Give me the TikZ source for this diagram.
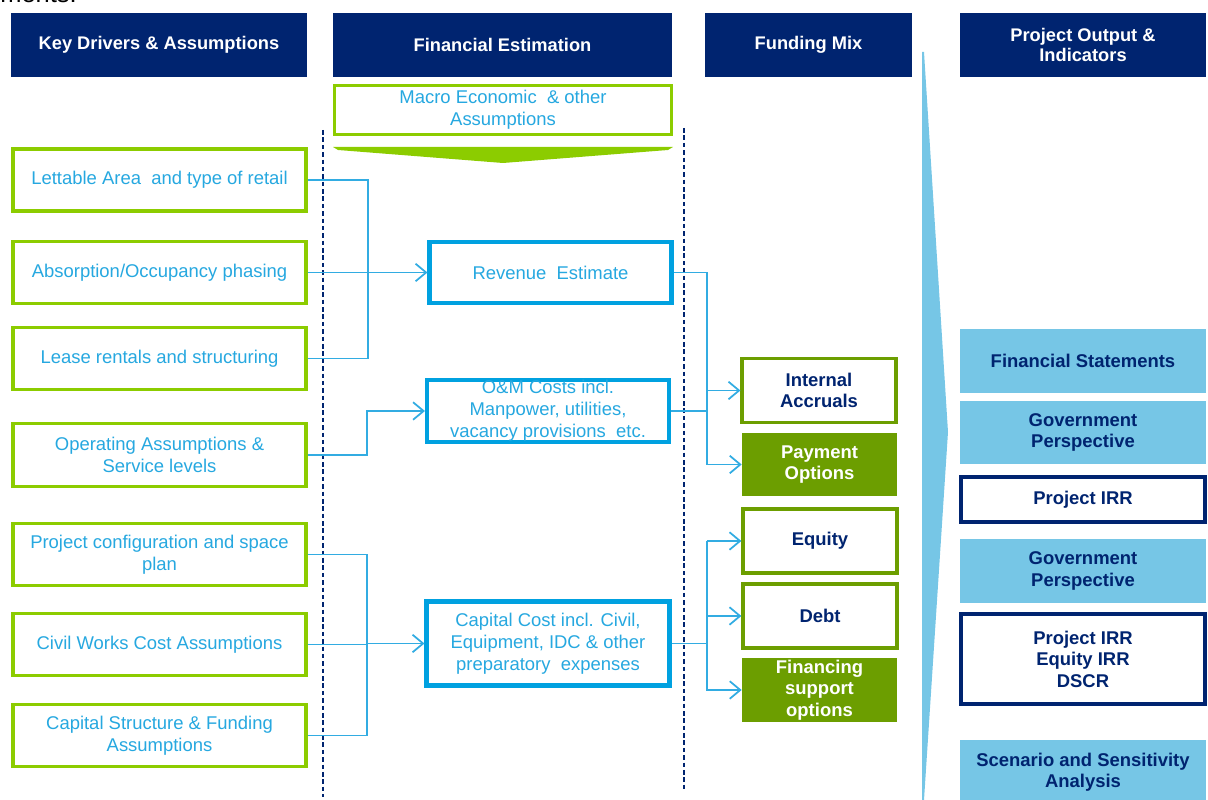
\documentclass[tikz,border=0pt]{standalone}
\usepackage{fontspec}
\setmainfont{Liberation Sans}
\usetikzlibrary{arrows.meta}
\definecolor{navy}{RGB}{0,36,112}
\definecolor{lime}{RGB}{140,204,0}
\definecolor{olive}{RGB}{108,158,0}
\definecolor{txtblue}{RGB}{38,168,224}
\definecolor{boxblue}{RGB}{0,161,224}
\definecolor{connblue}{RGB}{50,172,226}
\definecolor{lblue}{RGB}{118,198,230}
\begin{document}
\begin{tikzpicture}[x=0.02cm,y=-0.02cm,
  sz/.style 2 args={minimum width=#1*0.02cm, minimum height=#2*0.02cm},
  hdr/.style={fill=navy, text=white, font=\bfseries\fontsize{10.4}{11.8}\selectfont, align=center, inner sep=0pt},
  drv/.style={draw=lime, line width=2pt, fill=white, text=txtblue, font=\fontsize{10.5}{12.4}\selectfont, align=center, inner sep=0pt},
  est/.style={draw=boxblue, line width=2.3pt, fill=white, text=txtblue, font=\fontsize{10.5}{12.4}\selectfont, align=center, inner sep=0pt},
  fundo/.style={draw=olive, line width=1.8pt, fill=white, text=navy, font=\bfseries\fontsize{10.5}{12.2}\selectfont, align=center, inner sep=0pt},
  fundf/.style={fill=olive, text=white, font=\bfseries\fontsize{10.5}{12.2}\selectfont, align=center, inner sep=0pt},
  outf/.style={fill=lblue, text=navy, font=\bfseries\fontsize{10.5}{12.2}\selectfont, align=center, inner sep=0pt},
  outo/.style={draw=navy, line width=1.8pt, fill=white, text=navy, font=\bfseries\fontsize{10.5}{12.2}\selectfont, align=center, inner sep=0pt},
  conn/.style={draw=connblue, line width=0.8pt},
  arr/.style={conn, -{Straight Barb[length=6pt,width=10pt,line width=1pt]}},
  vdash/.style={draw=navy, line width=0.7pt, dash pattern=on 2.6pt off 1.6pt}
]
\useasboundingbox (0,0) rectangle (1208,800);
\clip (0,0) rectangle (1208,800);

% cut-off caption fragment at the top
\node[anchor=base west, inner sep=0pt, font=\fontsize{14.5}{16}\selectfont] (frag) at (0,3) {ments.};

% headers
\node[hdr, sz={296}{64}] (h1) at (159,45) {Key Drivers \& Assumptions};
\node[hdr, sz={339}{64}] (h2) at (502.5,45) {Financial Estimation};
\node[hdr, sz={207}{64}] (h3) at (808.5,45) {Funding Mix};
\node[hdr, sz={246}{64}] (h4) at (1083,45) {Project Output \&\\Indicators};

% dashed guides
\draw[vdash] (323,130) -- (323,797);
\draw[vdash] (684,128) -- (684,792);

% big light-blue wedge
\fill[lblue] (922,52) -- (924,52) -- (948,432) -- (924,800) -- (922,800) -- cycle;

% macro box and green chevron
\node[drv, sz={337}{49}] (macro) at (503,110) {Macro Economic \ \& other\\Assumptions};
\fill[lime] (333,147) -- (673,147) -- (668,150) -- (503,163) -- (338,150) -- cycle;

% key drivers
\node[drv, sz={293}{62}] (d1) at (159.5,180) {Lettable Area \ and type of retail};
\node[drv, sz={293}{62}] (d2) at (159.5,272.5) {Absorption/Occupancy phasing};
\node[drv, sz={293}{62}] (d3) at (159.5,358.5) {Lease rentals and structuring};
\node[drv, sz={293}{63}] (d4) at (159.5,455) {Operating Assumptions \&\\Service levels};
\node[drv, sz={293}{62}] (d5) at (159.5,554.5) {Project configuration and space\\plan};
\node[drv, sz={293}{62}] (d6) at (159.5,644.5) {Civil Works Cost Assumptions};
\node[drv, sz={293}{62}] (d7) at (159.5,735.5) {Capital Structure \& Funding\\Assumptions};

% estimation boxes
\node[est, sz={242}{61}] (rev) at (550.5,272.5) {Revenue \ Estimate};
\node[est, sz={242}{62}] (om) at (548,411) {O\&M Costs incl.\\Manpower, utilities,\\vacancy provisions \ etc.};
\node[est, sz={243}{84}] (cap) at (548,643.5) {Capital Cost incl. Civil,\\Equipment, IDC \& other\\preparatory \ expenses};

% funding mix
\node[fundo, sz={154}{64}] (ia) at (819,390.5) {Internal\\Accruals};
\node[fundf, sz={155}{63}] (po) at (819.5,464.5) {Payment\\Options};
\node[fundo, sz={154}{64}] (eq) at (820,541) {Equity};
\node[fundo, sz={154}{64}] (debt) at (820,616) {Debt};
\node[fundf, sz={155}{64}] (fin) at (819.5,690) {Financing\\support\\options};

% outputs
\node[outf, sz={246}{64}] (fs) at (1083,361) {Financial Statements};
\node[outf, sz={246}{63}] (gp1) at (1083,432.5) {Government\\Perspective};
\node[outo, sz={244}{45}] (pirr) at (1083,499.5) {Project IRR};
\node[outf, sz={246}{64}] (gp2) at (1083,571) {Government\\Perspective};
\node[outo, sz={244}{90}] (multi) at (1083,659) {Project IRR\\Equity IRR\\DSCR};
\node[outf, sz={246}{64}] (ssa) at (1083,772) {Scenario and Sensitivity\\Analysis};

% junction columns
\coordinate (j1) at (368,0);
\coordinate (j2) at (367,0);
\coordinate (j3) at (707,0);

% connectors: drivers to estimates
\draw[conn] (d1.east) -- (d1.east -| j1) -- (d3.east -| j1) -- (d3.east);
\draw[arr] (d2.east) -- (rev.west);
\draw[arr] (d4.east) -- (d4.east -| j2) -- (om.west -| j2) -- (om.west);
\draw[conn] (d5.east) -- (d5.east -| j2) -- (d7.east -| j2) -- (d7.east);
\draw[conn] (d6.east) -- (d6.east -| j2);
\draw[arr] (cap.west -| j2) -- (cap.west);

% connectors: estimates to funding
\draw[arr] (rev.east) -- (rev.east -| j3) -- (po.west -| j3) -- (po.west);
\draw[conn] (om.east) -- (om.east -| j3);
\draw[arr] (ia.west -| j3) -- (ia.west);
\draw[conn] (cap.east) -- (cap.east -| j3);
\draw[arr] (eq.west -| j3) -- (eq.west);
\draw[arr] (eq.west -| j3) -- (fin.west -| j3) -- (fin.west);
\draw[arr] (debt.west -| j3) -- (debt.west);
\end{tikzpicture}
\end{document}
